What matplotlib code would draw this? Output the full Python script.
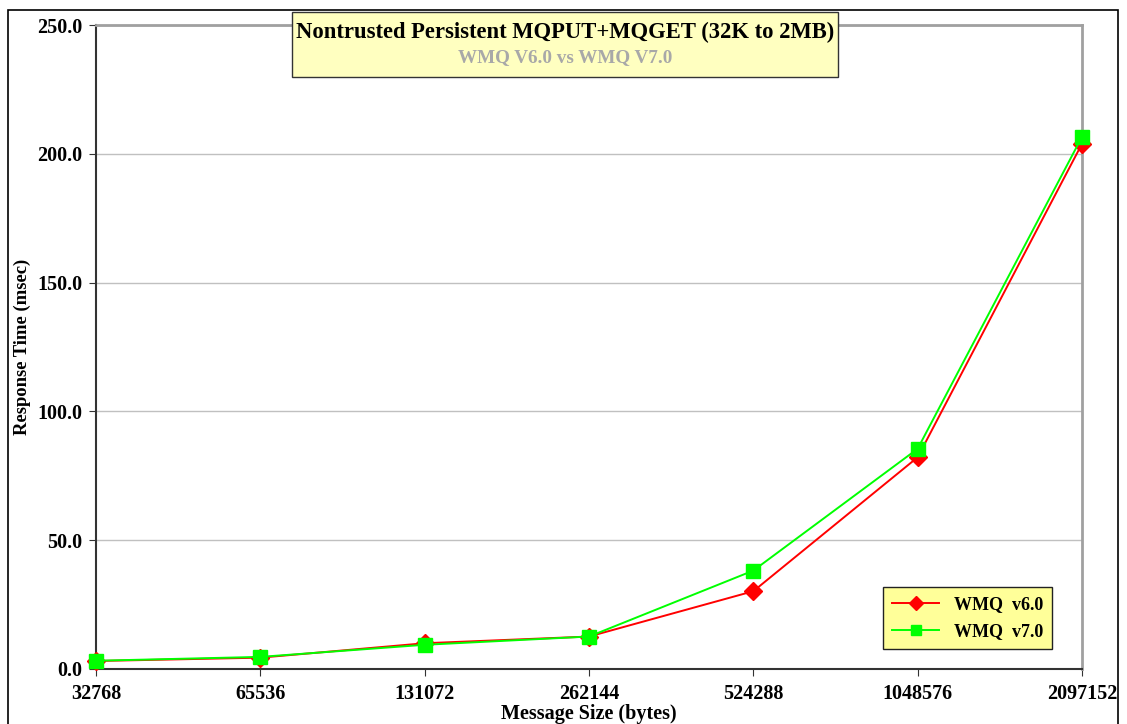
import matplotlib
matplotlib.use("Agg")
import matplotlib.pyplot as plt
from matplotlib.patches import Rectangle

# ── Data ─────────────────────────────────────────────────────────────
sizes = ['32768', '65536', '131072', '262144', '524288', '1048576', '2097152']
v6 = [3.1, 4.4, 10.0, 12.6, 30.2, 82.2, 203.9]
v7 = [3.2, 4.7, 9.4, 12.6, 38.2, 85.5, 206.6]
y_ticks = [0, 50, 100, 150, 200, 250]

plt.rcParams['font.family'] = ['Liberation Serif', 'DejaVu Serif']

fig = plt.figure(figsize=(11.27, 7.24), dpi=100)
ax = fig.add_axes([96/1127, 1-669/724, (1082-96)/1127, (669-25)/724])

x = range(len(sizes))
ax.plot(x, v6, '-', color='#ff0000', lw=1.4, marker='D', ms=9.5,
        mfc='#ff0000', mec='#ff0000', label='WMQ  v6.0', zorder=3, clip_on=False)
ax.plot(x, v7, '-', color='#00ff00', lw=1.4, marker='s', ms=10,
        mfc='#00ff00', mec='#00ff00', label='WMQ  v7.0', zorder=4, clip_on=False)

ax.set_xlim(0, len(sizes) - 1)
ax.set_ylim(0, 250)
ax.set_xticks(list(x))
ax.set_xticklabels(sizes, fontsize=14.5, fontweight='bold')
ax.set_yticks(y_ticks)
ax.set_yticklabels([f'{v:.1f}' for v in y_ticks], fontsize=14.5, fontweight='bold')
ax.tick_params(axis='both', direction='out', length=5, color='#333333', pad=6)
ax.tick_params(axis='y', length=5, pad=5)
ax.grid(axis='y', color='#c0c0c0', lw=1)
ax.set_axisbelow(True)

for side in ('left', 'bottom'):
    ax.spines[side].set_color('#333333')
    ax.spines[side].set_linewidth(1.5)
for side in ('right', 'top'):
    ax.spines[side].set_color('#a0a0a0')
    ax.spines[side].set_linewidth(2)

ax.set_xlabel('Message Size (bytes)', fontsize=14.5, fontweight='bold', va='center')
ax.set_ylabel('Response Time (msec)', fontsize=13.4, fontweight='bold', va='center')
ax.xaxis.set_label_coords(0.5, -(714-669)/(669-25))
ax.yaxis.set_label_coords(-(96-22)/(1082-96), 0.5)

# Title box
fig.text(565/1127, 1-32/724, 'Nontrusted Persistent MQPUT+MQGET (32K to 2MB)',
         ha='center', va='center', fontsize=16.3, fontweight='bold', color='black',
         zorder=6)
fig.text(565/1127, 1-58/724, 'WMQ V6.0 vs WMQ V7.0',
         ha='center', va='center', fontsize=13.8, fontweight='bold', color='#a8a8a8',
         zorder=6)
fig.patches.append(Rectangle((292/1127, 1-77/724), (838-292)/1127, (77-12)/724,
                             transform=fig.transFigure, facecolor='#ffffc0',
                             edgecolor='#333333', lw=1, zorder=5))

leg = ax.legend(loc='lower right', bbox_to_anchor=((1052-96)/(1082-96), (669-649)/(669-25)),
                prop={'weight': 'bold', 'size': 13}, frameon=True, borderaxespad=0,
                fancybox=False, borderpad=0.5, handlelength=2.6, labelspacing=0.55,
                markerscale=0.75)
leg.get_frame().set_facecolor('#ffff99')
leg.get_frame().set_edgecolor('#222222')
leg.get_frame().set_alpha(1)

# Outer chart border
fig.patches.append(Rectangle((8/1127, -0.05), (1118-8)/1127, 1.05 - 10/724,
                             transform=fig.transFigure, facecolor='none',
                             edgecolor='black', lw=1.2, zorder=0))

fig.savefig('out.png', dpi=100)
